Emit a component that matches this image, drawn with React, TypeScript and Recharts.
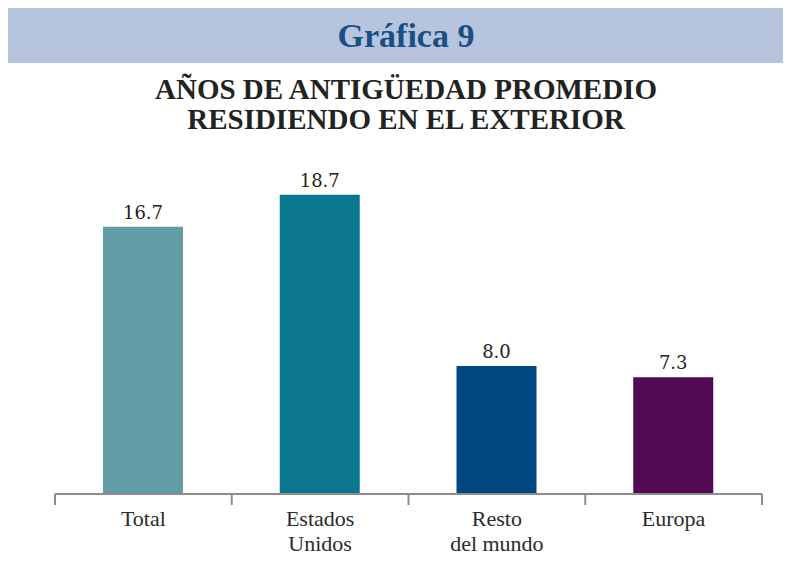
import React from "react";
import { BarChart, Bar, XAxis, YAxis, Cell, LabelList } from "recharts";

const chartTitle = "Gráfica 9";
const subtitleLines = ["AÑOS DE ANTIGÜEDAD PROMEDIO", "RESIDIENDO EN EL EXTERIOR"];
const categories = ["Total", "Estados Unidos", "Resto del mundo", "Europa"];
const categoryLines = [["Total"], ["Estados", "Unidos"], ["Resto", "del mundo"], ["Europa"]];
const values = [16.7, 18.7, 8.0, 7.3];
const barColors = ["#629ca5", "#0a7690", "#00467f", "#520a56"];

const data = categories.map((c, i) => ({ name: c, value: values[i] }));

const W = 791;
const H = 576;
const M = { top: 174, right: 29, bottom: 0, left: 55 };
const AXIS_H = 82;
const band = (W - M.left - M.right) / categories.length;
const SERIF = "'Liberation Serif', 'Times New Roman', serif";
const VALUE_FONT = "'DejaVu Serif', serif";

const CategoryTick = (props: any) => {
  const { x, y, index } = props;
  const lines = categoryLines[index] || [];
  const left = x - band / 2;
  const right = x + band / 2;
  return (
    <g>
      <line x1={left} y1={y} x2={left} y2={y + 11} stroke="#8c8c8c" strokeWidth={2} />
      {index === categories.length - 1 && (
        <line x1={right} y1={y} x2={right} y2={y + 11} stroke="#8c8c8c" strokeWidth={2} />
      )}
      {lines.map((l: string, k: number) => (
        <text
          key={k}
          x={x}
          y={y + 32 + k * 25}
          textAnchor="middle"
          fontFamily={SERIF}
          fontSize={22}
          fill="#2a2a2a"
        >
          {l}
        </text>
      ))}
    </g>
  );
};

export default function App() {
  return (
    <div style={{ position: "relative", left: -8, top: -8, width: W, height: H }}>
      <svg width={W} height={150} style={{ position: "absolute", left: 0, top: 0 }}>
        <rect x={6} y={8} width={W - 6} height={55} fill="#b7c4dd" />
        <text x={406} y={47} textAnchor="middle" fontFamily={SERIF} fontWeight="bold" fontSize={34} fill="#1a4f84">
          {chartTitle}
        </text>
        {subtitleLines.map((l, k) => (
          <text key={k} x={406} y={99 + k * 30} textAnchor="middle" fontFamily={SERIF} fontWeight="bold" fontSize={29} fill="#222">
            {l}
          </text>
        ))}
      </svg>
      <div style={{ position: "absolute", left: 0, top: 0 }}>
        <BarChart width={W} height={H} data={data} margin={M} barCategoryGap={0}>
          <YAxis hide domain={[0, 20]} />
          <XAxis
            dataKey="name"
            height={AXIS_H}
            tickLine={false}
            tickSize={0}
            tickMargin={0}
            axisLine={{ stroke: "#8c8c8c", strokeWidth: 2 }}
            interval={0}
            tick={<CategoryTick />}
          />
          <Bar dataKey="value" barSize={80} isAnimationActive={false}>
            {data.map((d, i) => (
              <Cell key={i} fill={barColors[i]} />
            ))}
            <LabelList
              dataKey="value"
              position="top"
              offset={8}
              fontFamily={VALUE_FONT}
              fontSize={18}
              fill="#222"
              formatter={(v: any) => Number(v).toFixed(1)}
            />
          </Bar>
        </BarChart>
      </div>
    </div>
  );
}
